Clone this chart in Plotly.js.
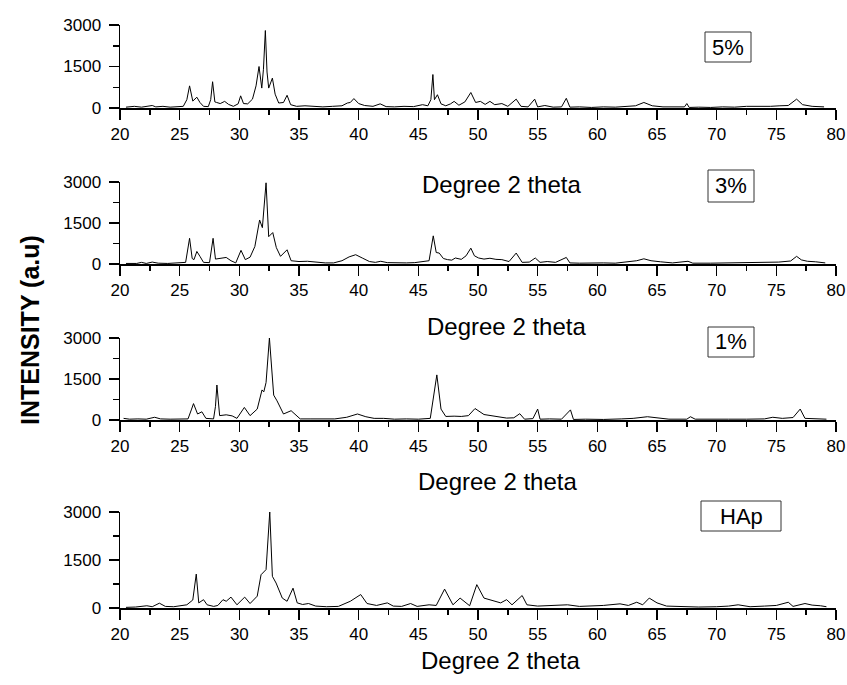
<!DOCTYPE html>
<html>
<head>
<meta charset="utf-8">
<script src="https://cdn.plot.ly/plotly-3.0.1.min.js"></script>
<style>html,body{margin:0;padding:0;background:#fff;}#chart{width:847px;height:685px;}</style>
</head>
<body>
<div id="chart"></div>
<script>
// ---- data (2-theta, intensity) ----
const pts5 = [[20.5,30],[21.2,60],[21.8,30],[22.4,70],[22.7,90],[23.0,40],[23.6,60],[24.2,30],[24.8,50],[25.3,60],[25.6,300],[25.83,800],[26.1,250],[26.3,330],[26.44,390],[26.7,200],[27.0,60],[27.4,50],[27.6,300],[27.76,950],[27.95,220],[28.1,200],[28.4,160],[28.77,240],[29.1,130],[29.5,60],[29.9,150],[30.11,440],[30.35,160],[30.7,150],[31.1,320],[31.4,800],[31.65,1500],[31.88,720],[32.02,1400],[32.18,2800],[32.32,1300],[32.46,720],[32.77,1080],[33.0,500],[33.3,180],[33.7,200],[34.0,460],[34.3,120],[34.8,60],[35.5,80],[36.2,50],[37.0,40],[37.8,60],[38.6,80],[39.05,180],[39.3,200],[39.6,340],[40.0,160],[40.5,90],[41.2,60],[41.8,150],[42.3,50],[43.0,40],[43.8,60],[44.6,50],[45.35,120],[45.8,80],[46.05,300],[46.22,1210],[46.35,300],[46.6,480],[46.9,150],[47.3,80],[47.7,150],[48.0,240],[48.4,100],[48.9,220],[49.4,560],[49.8,200],[50.2,240],[50.6,130],[51.0,240],[51.4,120],[52.0,160],[52.5,60],[53.2,320],[53.6,60],[54.2,40],[54.75,320],[55.0,40],[55.6,90],[56.3,30],[57.0,40],[57.4,350],[57.7,30],[58.5,40],[59.5,20],[60.5,40],[61.5,30],[62.5,60],[63.2,80],[63.9,200],[64.6,80],[65.5,40],[66.5,30],[67.3,40],[67.5,160],[67.7,20],[68.5,30],[69.5,20],[70.5,40],[71.5,30],[72.5,60],[73.5,50],[74.5,60],[75.3,80],[76.0,90],[76.7,320],[77.2,120],[78.0,60],[79.0,40]];
const pts3 = [[20.5,20],[21.4,20],[21.8,60],[22.2,20],[22.7,70],[23.2,30],[24.0,20],[24.8,30],[25.5,60],[25.83,940],[26.05,200],[26.2,160],[26.44,460],[26.7,280],[27.0,60],[27.5,50],[27.8,940],[28.0,180],[28.4,200],[28.9,240],[29.3,120],[29.7,40],[30.14,500],[30.5,160],[30.9,250],[31.3,640],[31.7,1610],[31.93,1330],[32.24,2970],[32.46,1000],[32.8,1150],[33.1,600],[33.45,280],[34.0,520],[34.34,120],[35.0,90],[35.7,100],[36.5,60],[37.2,40],[37.9,40],[38.6,120],[39.2,260],[39.75,340],[40.3,220],[40.9,90],[41.4,60],[41.85,100],[42.4,50],[43.2,40],[44.0,40],[44.7,50],[45.35,100],[45.9,120],[46.25,1030],[46.5,420],[46.75,400],[47.1,200],[47.45,160],[47.8,140],[48.1,220],[48.6,170],[49.0,300],[49.4,580],[49.7,300],[50.05,220],[50.5,180],[51.0,210],[51.5,170],[52.0,160],[52.6,90],[53.2,400],[53.7,60],[54.3,70],[54.8,220],[55.2,60],[55.8,90],[56.5,60],[57.4,240],[57.7,40],[58.5,30],[59.5,40],[60.5,40],[61.5,30],[62.5,80],[63.3,120],[63.9,190],[64.5,120],[65.3,80],[66.3,40],[67.6,100],[68.0,30],[69.5,30],[71.0,40],[72.5,50],[74.0,60],[75.2,70],[76.2,110],[76.7,280],[77.1,150],[77.6,100],[78.3,80],[79.1,40]];
const pts1 = [[20.3,60],[20.8,30],[21.5,40],[22.2,30],[22.9,100],[23.4,40],[24.2,30],[25.0,30],[25.7,40],[26.0,400],[26.16,600],[26.5,220],[26.86,300],[27.2,60],[27.84,40],[28.0,500],[28.12,1280],[28.35,160],[28.9,190],[29.4,150],[29.8,60],[30.42,460],[30.9,160],[31.5,400],[31.9,1100],[32.05,1030],[32.24,1370],[32.52,3000],[32.74,1850],[32.88,910],[33.16,700],[33.7,220],[34.34,340],[34.85,120],[35.1,40],[36.0,40],[37.0,30],[38.0,40],[39.0,100],[39.9,220],[40.6,120],[41.3,60],[42.1,60],[43.0,30],[44.0,40],[45.0,30],[46.0,60],[46.4,1190],[46.55,1650],[46.9,400],[47.3,130],[48.0,140],[48.6,130],[49.2,160],[49.75,420],[50.5,200],[51.3,150],[52.4,70],[53.0,80],[53.5,230],[53.9,30],[54.6,50],[55.0,400],[55.2,30],[56.0,40],[57.0,30],[57.75,370],[58.0,20],[59.0,30],[60.5,20],[62.0,40],[63.0,60],[64.2,120],[65.0,80],[66.0,30],[67.5,30],[67.8,120],[68.2,30],[69.5,20],[71.0,30],[72.5,30],[74.0,40],[74.7,100],[75.5,60],[76.4,90],[77.0,400],[77.4,60],[78.2,50],[79.2,30]];
const ptsHAp = [[20.5,20],[21.3,30],[22.25,70],[22.7,40],[23.3,150],[23.8,50],[24.5,40],[25.1,60],[25.6,100],[26.1,250],[26.39,1060],[26.6,160],[27.0,260],[27.3,100],[27.85,50],[28.2,80],[28.63,260],[28.9,210],[29.3,340],[29.8,100],[30.45,340],[30.9,140],[31.5,370],[31.82,1040],[32.05,1120],[32.24,1200],[32.55,3000],[32.77,990],[33.08,780],[33.6,310],[34.0,210],[34.5,620],[34.85,160],[35.3,110],[35.8,140],[36.4,60],[37.3,40],[38.3,50],[39.3,210],[40.17,420],[40.7,140],[41.5,80],[42.4,160],[42.9,60],[43.6,50],[44.35,140],[44.9,50],[45.9,100],[46.5,80],[47.2,590],[47.9,100],[48.5,310],[49.3,70],[49.9,730],[50.5,310],[51.0,260],[51.5,200],[51.9,160],[52.4,260],[52.85,100],[53.7,390],[54.1,100],[55.0,60],[56.0,70],[57.5,100],[58.5,50],[59.5,60],[60.5,80],[61.9,130],[62.6,80],[63.3,180],[63.8,100],[64.35,310],[65.0,160],[65.8,60],[67.0,40],[68.5,30],[70.0,40],[71.0,60],[71.8,100],[72.8,40],[74.0,60],[75.0,80],[76.0,180],[76.4,50],[77.4,140],[78.0,90],[78.7,70],[79.2,40]];

const sampleLabels = ['5%', '3%', '1%', 'HAp'];
const xTickVals = [20, 25, 30, 35, 40, 45, 50, 55, 60, 65, 70, 75, 80];
const yTickVals = [0, 1500, 3000];
const xTitle = 'Degree 2 theta';
const yTitle = 'INTENSITY (a.u)';

// ---- layout geometry (pixels) ----
const W = 847, H = 685;
const px = v => v / W, py = v => 1 - v / H;
const xDom = [px(120), px(836)];
const panels = [ // top pixel (3000), bottom pixel (0)
  [25, 108], [182, 264], [338, 420], [512, 608]
];
const series = [pts5, pts3, pts1, ptsHAp];
const FONT = 'Liberation Sans, Arial, sans-serif';

const data = series.map((s, i) => ({
  x: s.map(p => p[0]), y: s.map(p => p[1]),
  type: 'scatter', mode: 'lines',
  line: {color: '#000', width: 1},
  xaxis: i === 0 ? 'x' : 'x' + (i + 1),
  yaxis: i === 0 ? 'y' : 'y' + (i + 1),
  hoverinfo: 'skip', showlegend: false
}));

const layout = {
  width: W, height: H,
  margin: {l: 0, r: 0, t: 0, b: 0},
  paper_bgcolor: '#fff', plot_bgcolor: 'rgba(0,0,0,0)',
  font: {family: FONT, color: '#000', size: 17},
  showlegend: false,
  annotations: [], shapes: []
};

panels.forEach((p, i) => {
  const k = i === 0 ? '' : String(i + 1);
  layout['xaxis' + k] = {
    domain: xDom, anchor: 'y' + k, range: [20, 80],
    tickvals: xTickVals, ticks: 'outside', ticklen: 10, tickwidth: 1.5, tickcolor: '#000',
    minor: {tickvals: [22.5,27.5,32.5,37.5,42.5,47.5,52.5,57.5,62.5,67.5,72.5,77.5], ticks: 'outside', ticklen: 5, tickwidth: 1.5, tickcolor: '#000'},
    showline: true, linecolor: '#000', linewidth: 1.5, showgrid: false, zeroline: false,
    tickfont: {family: FONT, size: 17, color: '#000'}, fixedrange: true
  };
  layout['yaxis' + k] = {
    domain: [py(p[1]), py(p[0])], anchor: 'x' + k, range: [0, 3000],
    tickvals: yTickVals, ticks: 'outside', ticklen: 10, tickwidth: 1.5, tickcolor: '#000',
    minor: {tickvals: [750, 2250], ticks: 'outside', ticklen: 6, tickwidth: 1.5, tickcolor: '#000'},
    showline: true, linecolor: '#000', linewidth: 1.5, showgrid: false, zeroline: false,
    tickfont: {family: FONT, size: 17, color: '#000'}, ticklabelstandoff: 4, fixedrange: true
  };
});

// sample label boxes
const boxes = [[705, 32, 751, 62], [708, 170, 754, 202], [708, 327, 754, 357], [701, 501, 781, 531]];
boxes.forEach((b, i) => {
  layout.shapes.push({type: 'rect', xref: 'paper', yref: 'paper',
    x0: px(b[0]), x1: px(b[2]), y0: py(b[3]), y1: py(b[1]),
    line: {color: '#333', width: 1}, fillcolor: 'rgba(0,0,0,0)'});
  layout.annotations.push({xref: 'paper', yref: 'paper', x: px((b[0] + b[2]) / 2), y: py((b[1] + b[3]) / 2),
    text: sampleLabels[i], showarrow: false, xanchor: 'center', yanchor: 'middle',
    font: {family: FONT, size: 22, color: '#000'}});
});

// x titles
const xTitles = [[502, 184], [506, 326], [497, 481], [500, 660]];
xTitles.forEach(t => layout.annotations.push({xref: 'paper', yref: 'paper', x: px(t[0]), y: py(t[1]),
  text: xTitle, showarrow: false, xanchor: 'center', yanchor: 'middle',
  font: {family: FONT, size: 24, color: '#000'}}));

// y title
layout.annotations.push({xref: 'paper', yref: 'paper', x: px(30), y: py(330), textangle: -90,
  text: '<b>' + yTitle + '</b>', showarrow: false, xanchor: 'center', yanchor: 'middle',
  font: {family: 'Liberation Sans Narrow, Arial Narrow, Liberation Sans, sans-serif', size: 25, color: '#000'}});

Plotly.newPlot('chart', data, layout, {displayModeBar: false, staticPlot: true});
</script>
</body>
</html>
